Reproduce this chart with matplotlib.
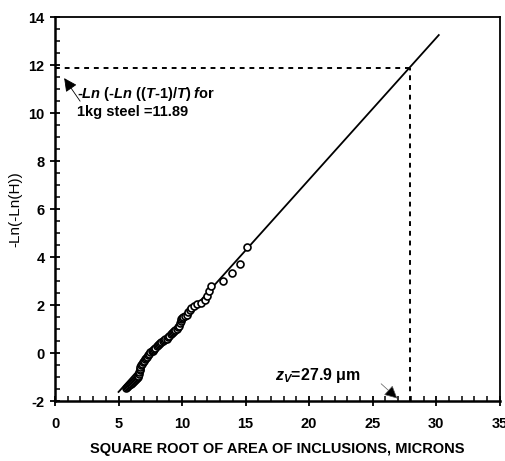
import numpy as np
import matplotlib
matplotlib.use('Agg')
import matplotlib.pyplot as plt
from matplotlib.ticker import MultipleLocator

plt.rcParams['font.family'] = ['Liberation Sans', 'DejaVu Sans']
plt.rcParams['mathtext.fontset'] = 'custom'
plt.rcParams['mathtext.it'] = 'Liberation Sans:bold:italic'
plt.rcParams['mathtext.rm'] = 'Liberation Sans:bold'
plt.rcParams['axes.unicode_minus'] = False

# observed inclusion sizes (sqrt area, microns) and reduced variate
sqrt_area = [5.55, 5.64, 5.72, 5.8, 5.88, 5.95, 6.03, 6.1, 6.18, 6.26, 6.34, 6.42,
             6.5, 6.56, 6.6, 6.64, 6.67, 6.69, 6.72, 6.76, 6.82, 6.9, 6.98, 7.06,
             7.14, 7.21, 7.3, 7.4, 7.5, 7.6, 7.68, 7.74, 7.82, 7.9, 8.0, 8.1,
             8.18, 8.26, 8.36, 8.46, 8.56, 8.66, 8.79, 8.9, 9.0, 9.1, 9.18, 9.28,
             9.38, 9.48, 9.58, 9.68, 9.76, 9.83, 9.89, 9.95, 10.02, 10.1, 10.2,
             10.35, 10.5, 10.62, 10.67, 10.9, 11.15, 11.5, 11.8, 12.0, 12.14,
             12.25, 13.25, 13.9, 14.56, 15.08]
red_var = [-1.45, -1.43, -1.38, -1.34, -1.3, -1.27, -1.24, -1.2, -1.16, -1.12, -1.08, -1.04,
           -1.0, -0.96, -0.88, -0.8, -0.72, -0.65, -0.57, -0.5, -0.44, -0.38, -0.32, -0.26,
           -0.2, -0.15, -0.08, -0.02, 0.03, 0.07, 0.1, 0.13, 0.18, 0.23, 0.28, 0.33,
           0.37, 0.4, 0.45, 0.5, 0.54, 0.57, 0.6, 0.66, 0.72, 0.78, 0.82, 0.87,
           0.92, 0.97, 1.02, 1.08, 1.14, 1.24, 1.35, 1.42, 1.48, 1.51, 1.55,
           1.6, 1.7, 1.8, 1.86, 1.95, 2.04, 2.1, 2.2, 2.38, 2.6,
           2.79, 3.0, 3.32, 3.71, 4.43]

# fitted extreme value line
fit_x = [5.0, 30.2]
fit_y = [-1.62, 13.25]

zv = 27.9
t_level = 11.89

fig = plt.figure(figsize=(5.06, 4.61), dpi=100)
ax = fig.add_axes([0.1087, 0.130, 0.879, 0.833])

ax.plot(fit_x, fit_y, color='black', lw=1.3)
ax.plot(sqrt_area, red_var, 'o', mfc='white', mec='black', ms=5, mew=1.2)

ax.plot([0, zv], [t_level, t_level], color='black', lw=1.4, ls=(0, (2.5, 2.5)))
ax.plot([zv, zv], [-2, t_level], color='black', lw=1.4, ls=(0, (2.5, 2.5)))

ax.set_xlim(0, 35)
ax.set_ylim(-2, 14)
ax.xaxis.set_major_locator(MultipleLocator(5))
ax.xaxis.set_minor_locator(MultipleLocator(1))
ax.yaxis.set_major_locator(MultipleLocator(2))
ax.yaxis.set_minor_locator(MultipleLocator(0.5))
ax.tick_params(which='major', direction='inout', length=7, width=1.3,
               labelsize=10.5)
ax.tick_params(axis='x', which='major', pad=8)
ax.tick_params(axis='y', which='major', pad=4)
ax.tick_params(which='minor', direction='in', length=3.5, width=1.1)
for lab in ax.get_xticklabels() + ax.get_yticklabels():
    lab.set_fontweight('bold')
for s in ['left', 'bottom']:
    ax.spines[s].set_linewidth(1.8)
for s in ['top', 'right']:
    ax.spines[s].set_linewidth(1.3)

ax.set_xlabel('SQUARE ROOT OF AREA OF INCLUSIONS, MICRONS', fontsize=10.5,
              fontweight='bold', labelpad=8)
ax.set_ylabel('-Ln(-Ln(H))', fontsize=11, labelpad=4)

ax.annotate('', xy=(0.6, 11.55), xytext=(2.1, 10.4),
            arrowprops=dict(arrowstyle='-|>', color='black', lw=0.6,
                            mutation_scale=20))
ax.text(1.75, 10.45, r'-$Ln$ (-$Ln$ (($T$-$1$)/$T$) $f$or' + '\n1kg steel =11.89',
        fontsize=10.5, fontweight='bold', va='center', ha='left', linespacing=1.15)

ax.annotate('', xy=(27.1, -1.97), xytext=(25.5, -1.2),
            arrowprops=dict(arrowstyle='-|>', color='0.35', lw=0.5,
                            mutation_scale=20, ec='0.35', fc='black'))
ax.text(17.3, -0.95, r'$z_V$=27.9 μm', fontsize=11.5, fontweight='bold',
        va='center', ha='left')

fig.savefig('out.png', dpi=100)
